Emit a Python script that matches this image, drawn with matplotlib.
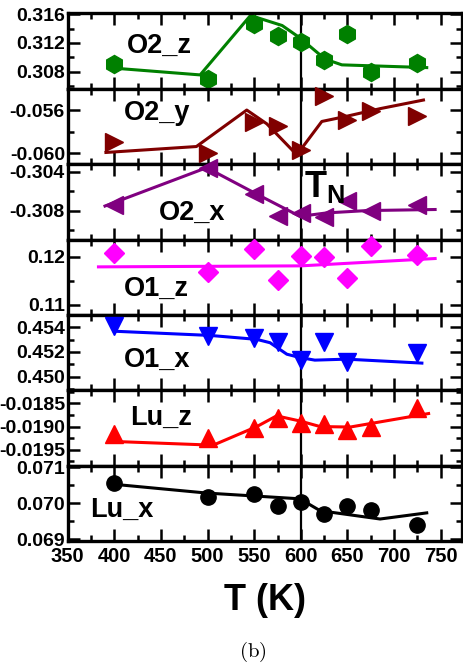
import matplotlib
matplotlib.use('Agg')
import matplotlib.pyplot as plt
from matplotlib.ticker import MultipleLocator, FormatStrFormatter

plt.rcParams['font.family'] = ['Liberation Sans', 'DejaVu Sans']
plt.rcParams['font.weight'] = 'bold'
plt.rcParams['mathtext.fontset'] = 'custom'
plt.rcParams['mathtext.bf'] = 'Liberation Sans:bold'
plt.rcParams['mathtext.rm'] = 'Liberation Sans:bold'

# temperatures (K)
T = [400, 500, 550, 575, 600, 625, 650, 675, 725]
T_o1x = [400, 500, 550, 575, 600, 625, 650, 725]

# refined positions
o2z = [0.3091, 0.30698, 0.3147, 0.3129, 0.3121, 0.3096, 0.3133, 0.3080, 0.3092]
o2y = [-0.05895, -0.0600, -0.05712, -0.05744, -0.05968, -0.05463, -0.05693, -0.05607, -0.05648]
o2x = [-0.30747, -0.30358, -0.3063, -0.3086, -0.30824, -0.30867, -0.30701, -0.30807, -0.30747]
o1z = [0.12084, 0.11686, 0.12153, 0.11509, 0.12021, 0.1200, 0.11566, 0.12231, 0.12048]
o1x = [0.45408, 0.45328, 0.4531, 0.4528, 0.45139, 0.45278, 0.4512, 0.45192]
luz = [-0.019157, -0.01925, -0.01904, -0.01882, -0.01893, -0.01894, -0.01908, -0.0190, -0.01861]
lux = [0.07057, 0.07017, 0.07026, 0.06992, 0.07002, 0.0697, 0.06992, 0.06982, 0.0694]

# guide lines through the data
o2z_fit_T = [400, 492, 546, 580, 599, 626, 644, 735]
o2z_fit = [0.30848, 0.30754, 0.31582, 0.31442, 0.3127, 0.30974, 0.30894, 0.30856]
o2y_fit_T = [391, 488, 542, 563.5, 595.7, 622.5, 649, 685, 731.5]
o2y_fit = [-0.05991, -0.05936, -0.05597, -0.05725, -0.06013, -0.05703, -0.05655, -0.05584, -0.05504]
o2x_fit_T = [390, 499, 552.8, 599, 627.9, 670.8, 744]
o2x_fit = [-0.30753, -0.30356, -0.3063, -0.3086, -0.30824, -0.308, -0.30789]
o1z_fit_T = [383, 600, 744]
o1z_fit = [0.11791, 0.11812, 0.11965]
o1x_fit_T = [400, 502.7, 552.8, 567, 585, 599, 615, 649, 729.8]
o1x_fit = [0.45368, 0.45334, 0.45302, 0.45275, 0.45182, 0.45155, 0.45134, 0.45142, 0.4511]
luz_fit_T = [399.7, 506, 552.8, 574, 599, 620.7, 653, 737]
luz_fit = [-0.01932, -0.0194, -0.0190, -0.01877, -0.01888, -0.0190, -0.01901, -0.01872]
lux_fit_T = [400.7, 499, 599, 620.7, 685, 735]
lux_fit = [0.07052, 0.07028, 0.07012, 0.06979, 0.06956, 0.06973]

names = ['O2_z', 'O2_y', 'O2_x', 'O1_z', 'O1_x', 'Lu_z', 'Lu_x']
colors = ['#008000', '#800000', '#800080', '#ff00ff', '#0000ff', '#ff0000', '#000000']
markers = ['h', '>', '<', 'D', 'v', '^', 'o']
sizes = [13, 13, 13, 10.5, 13.5, 13, 11]

panels = [
    (T, o2z, o2z_fit_T, o2z_fit, (0.3056, 0.3161), 0.004, '%.3f', (0.150, 0.472)),
    (T, o2y, o2y_fit_T, o2y_fit, (-0.0610, -0.0540), 0.004, '%.3f', (0.143, 0.587)),
    (T, o2x, o2x_fit_T, o2x_fit, (-0.3110, -0.3032), 0.004, '%.3f', (0.232, 0.260)),
    (T, o1z, o1z_fit_T, o1z_fit, (0.1079, 0.1236), 0.01, '%.2f', (0.143, 0.252)),
    (T_o1x, o1x, o1x_fit_T, o1x_fit, (0.4489, 0.4550), 0.002, '%.3f', (0.143, 0.313)),
    (T, luz, luz_fit_T, luz_fit, (-0.01984, -0.01822), 0.0005, '%.4f', (0.158, 0.540)),
    (T, lux, lux_fit_T, lux_fit, (0.06895, 0.07104), 0.001, '%.3f', (0.057, 0.315)),
]

fig, axes = plt.subplots(7, 1, sharex=True, figsize=(4.63, 6.67), dpi=100)
fig.subplots_adjust(left=0.1462, right=0.9972, top=0.9798, bottom=0.1889, hspace=0)

for i, ax in enumerate(axes):
    tx, vals, fx, fy, ylim, step, fmt, lab = panels[i]
    ax.axvline(600, color='k', lw=1.6, zorder=1)
    ax.plot(fx, fy, color=colors[i], lw=2.2, zorder=2)
    ax.plot(tx, vals, linestyle='none', marker=markers[i], ms=sizes[i],
            color=colors[i], mec=colors[i], zorder=3, clip_on=False)
    ax.set_xlim(350, 772.5)
    ax.set_ylim(*ylim)
    ax.yaxis.set_major_locator(MultipleLocator(step))
    ax.yaxis.set_minor_locator(MultipleLocator(step / 2))
    ax.yaxis.set_major_formatter(FormatStrFormatter(fmt))
    ax.xaxis.set_major_locator(MultipleLocator(50))
    ax.xaxis.set_minor_locator(MultipleLocator(25))
    ax.tick_params(which='both', direction='in', top=True, right=True, width=1.8)
    ax.tick_params(which='major', length=8.5)
    ax.tick_params(which='minor', length=4.5)
    ax.tick_params(axis='y', labelsize=14, pad=2)
    ax.tick_params(axis='x', labelsize=14.5, pad=4)
    for s in ax.spines.values():
        s.set_linewidth(2.4)
    ax.text(lab[0], lab[1], names[i], transform=ax.transAxes, fontsize=19.5,
            fontweight='bold', va='baseline', ha='left')

axes[2].text(0.6, 0.561, r'$\mathbf{T}_{\mathbf{N}}$', transform=axes[2].transAxes,
             fontsize=26, va='baseline', ha='left')

fig.text(265 / 463, 1 - 600 / 667, 'T (K)', fontsize=26, fontweight='bold',
         ha='center', va='center')
fig.text(253 / 463, 1 - 652 / 667, r'$\mathrm{(b)}$', math_fontfamily='cm',
         fontsize=15, ha='center', va='center')

fig.savefig('out.png', dpi=100)
